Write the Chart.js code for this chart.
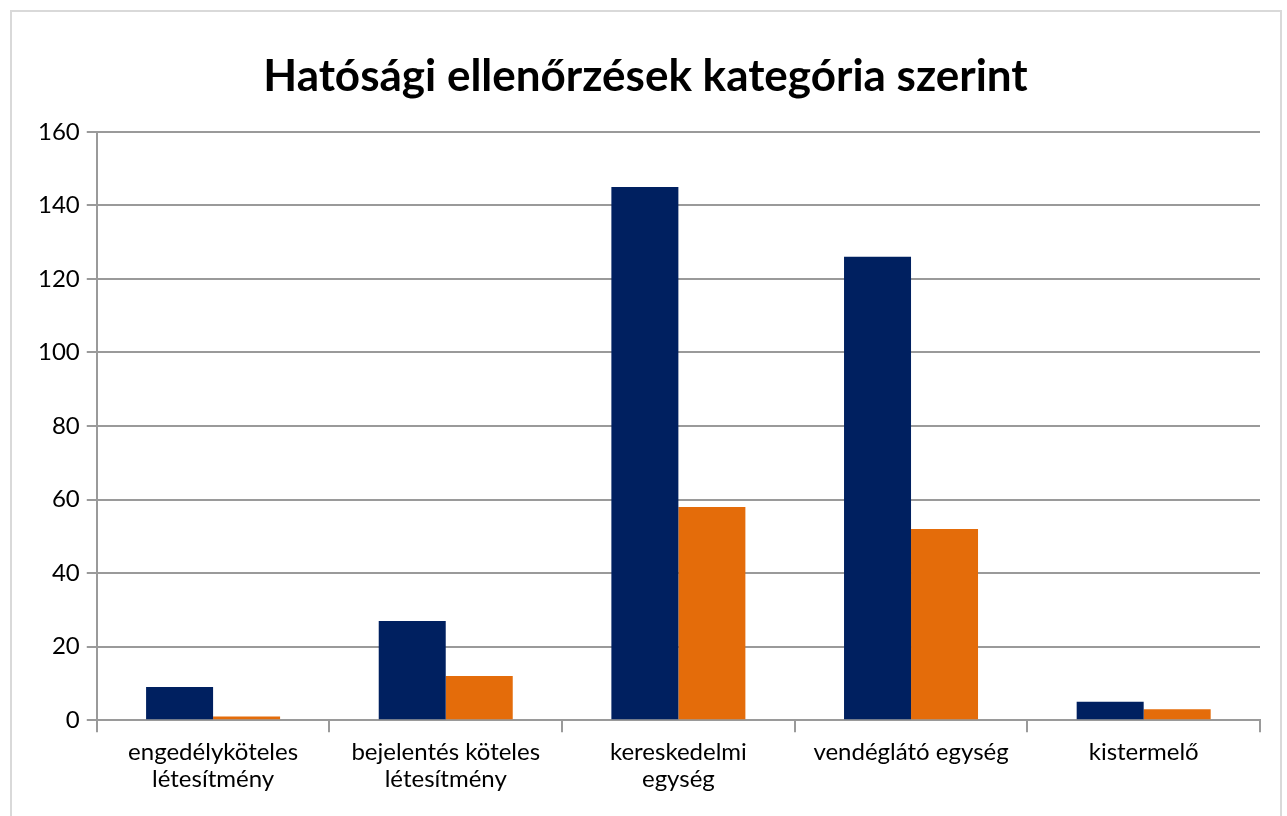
<!DOCTYPE html>
<html lang="hu">
<head>
    <meta charset="UTF-8">
    <title>Hatósági ellenőrzések kategória szerint</title>
    <script src="https://cdn.jsdelivr.net/npm/chart.js"></script>
    <style>
        body { margin: 0; background: #fff; }
        #wrap { position: relative; width: 1287px; height: 816px; }
        #frame { position: absolute; left: 10px; top: 10px; width: 1272px; height: 820px; border: 2px solid #d9d9d9; box-sizing: border-box; pointer-events: none; }
    </style>
</head>
<body>
    <div id="wrap">
        <canvas id="chart" width="1287" height="816"></canvas>
        <div id="frame"></div>
    </div>

    <script>
        const categories = [
            ['engedélyköteles', 'létesítmény'],
            ['bejelentés köteles', 'létesítmény'],
            ['kereskedelmi', 'egység'],
            'vendéglátó egység',
            'kistermelő'
        ];
        const seriesA = [9, 27, 145, 126, 5];
        const seriesB = [1, 12, 58, 52, 3];
        const yTicks = { min: 0, max: 160, step: 20 };

        const gridColor = '#9a9a9a';
        const font = "Lato, 'Open Sans', sans-serif";

        const ctx = document.getElementById('chart').getContext('2d');
        const chart = new Chart(ctx, {
            type: 'bar',
            data: {
                labels: categories,
                datasets: [{
                    label: 'A',
                    data: seriesA,
                    backgroundColor: '#002060',
                    barPercentage: 1,
                    categoryPercentage: 0.576
                }, {
                    label: 'B',
                    data: seriesB,
                    backgroundColor: '#e46c0a',
                    barPercentage: 1,
                    categoryPercentage: 0.576
                }]
            },
            options: {
                responsive: false,
                animation: false,
                layout: { padding: { left: 31, right: 27, top: 20, bottom: 17 } },
                plugins: {
                    legend: { display: false },
                    tooltip: { enabled: false },
                    title: {
                        display: true,
                        text: 'Hatósági ellenőrzések kategória szerint',
                        color: '#000',
                        font: { family: font, size: 44, weight: 'bold' },
                        padding: { top: 30, bottom: 29 }
                    }
                },
                scales: {
                    x: {
                        grid: { drawOnChartArea: false, drawTicks: true, tickLength: 12, color: gridColor, lineWidth: 2 },
                        border: { display: true, color: gridColor, width: 2 },
                        ticks: { color: '#000', font: { family: font, size: 24, lineHeight: 1.1 }, padding: 7, maxRotation: 0 }
                    },
                    y: {
                        min: yTicks.min,
                        max: yTicks.max,
                        ticks: { stepSize: yTicks.step, color: '#000', font: { family: font, size: 24 }, padding: 7 },
                        grid: { color: gridColor, lineWidth: 2, tickLength: 10 },
                        border: { display: true, color: gridColor, width: 2 }
                    }
                }
            }
        });
    </script>
</body>
</html>
